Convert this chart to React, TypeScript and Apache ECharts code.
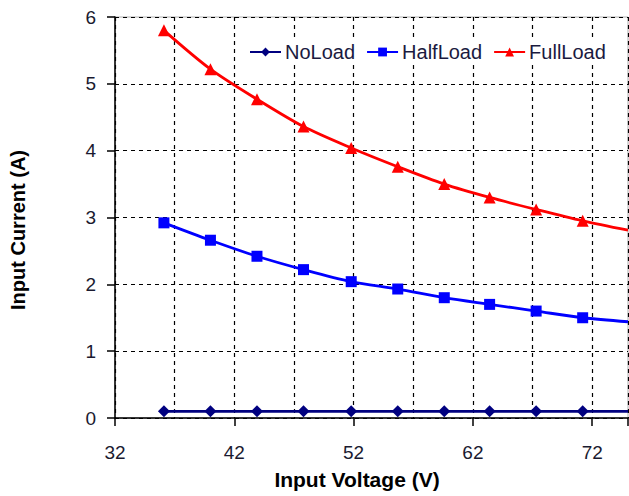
import React, { useEffect, useRef } from "react";
import * as echarts from "echarts";

const voltages = [36.1, 40, 43.9, 47.8, 51.8, 55.7, 59.6, 63.4, 67.3, 71.2, 75];
const noLoad = [0.1, 0.1, 0.1, 0.1, 0.1, 0.1, 0.1, 0.1, 0.1, 0.1, 0.1];
const halfLoad = [2.92, 2.66, 2.42, 2.22, 2.04, 1.93, 1.8, 1.7, 1.6, 1.5, 1.44];
const fullLoad = [5.8, 5.22, 4.77, 4.36, 4.04, 3.76, 3.5, 3.3, 3.12, 2.95, 2.81];
const seriesNames = ["NoLoad", "HalfLoad", "FullLoad"];
const xTickLabels = [32, 42, 52, 62, 72];

const FONT = "'Liberation Sans', Arial, sans-serif";

function toData(values: number[]) {
  return values.map((v, i) => {
    const last = i === values.length - 1;
    return last ? { value: [voltages[i], v], symbol: "none" } : { value: [voltages[i], v] };
  });
}

export default function App() {
  const ref = useRef<HTMLDivElement>(null);
  useEffect(() => {
    if (!ref.current) return;
    const chart = echarts.init(ref.current, null, { renderer: "svg" });
    const mk = (name: string, values: number[], color: string, symbol: string, size: number) => ({
      name,
      type: "line",
      xAxisIndex: 0,
      data: toData(values),
      smooth: 0.3,
      symbol,
      symbolSize: size,
      showAllSymbol: true,
      lineStyle: { color, width: 2.8 },
      itemStyle: { color },
      clip: true,
    });
    chart.setOption({
      animation: false,
      backgroundColor: "#fff",
      grid: {
        left: 115,
        right: 1,
        top: 17,
        bottom: 78,
        show: true,
        borderColor: "#b0b0b0",
        borderWidth: 1,
        outerBoundsMode: "none",
      },
      legend: {
        data: seriesNames.map((n) => ({ name: n })),
        top: 40,
        left: 246,
        itemWidth: 31,
        itemHeight: 11,
        itemGap: 11,
        backgroundColor: "#fff",
        padding: [2, 3, 2, 3],
        textStyle: { fontFamily: FONT, fontSize: 20, color: "#1a1a40", padding: [0, 0, 0, -1] },
      },
      xAxis: [
        {
          type: "value",
          min: 32,
          max: 75,
          interval: 10,
          axisLine: { show: true, onZero: false, lineStyle: { color: "#000", width: 1.5 } },
          axisTick: { show: true, length: 8, lineStyle: { color: "#000", width: 1.5 } },
          axisLabel: {
            margin: 25,
            fontFamily: FONT,
            fontSize: 19,
            color: "#1a1a30",
            formatter: (v: number) => (xTickLabels.includes(v) ? String(v) : ""),
          },
          splitLine: { show: false },
        },
        {
          type: "value",
          position: "bottom",
          min: 32,
          max: 75,
          interval: 5,
          axisLine: { show: false },
          axisTick: { show: false },
          axisLabel: { show: false },
          splitLine: { show: true, lineStyle: { color: "#000", type: [4, 4], width: 1.2 } },
        },
      ],
      yAxis: {
        type: "value",
        min: 0,
        max: 6,
        interval: 1,
        axisLine: { show: true, lineStyle: { color: "#000", width: 1.5 } },
        axisTick: { show: true, length: 8, lineStyle: { color: "#000", width: 1.5 } },
        axisLabel: { margin: 19, fontFamily: FONT, fontSize: 19, color: "#1a1a30" },
        splitLine: { show: true, lineStyle: { color: "#000", type: [4, 4], width: 1.2 } },
      },
      graphic: [
        {
          type: "text",
          x: 357,
          y: 479,
          style: {
            text: "Input Voltage (V)",
            font: `bold 21px ${FONT}`,
            fill: "#000",
            align: "center",
            verticalAlign: "middle",
          },
        },
        {
          type: "text",
          x: 18,
          y: 230,
          rotation: Math.PI / 2,
          style: {
            text: "Input Current (A)",
            font: `bold 20px ${FONT}`,
            fill: "#000",
            align: "center",
            verticalAlign: "middle",
          },
        },
      ],
      series: [
        mk("NoLoad", noLoad, "#000080", "diamond", 12),
        mk("HalfLoad", halfLoad, "#0000ff", "rect", 11),
        mk("FullLoad", fullLoad, "#ff0000", "triangle", 12),
      ],
    });
    return () => chart.dispose();
  }, []);
  return (
    <div
      ref={ref}
      style={{ position: "fixed", left: 0, top: 0, width: 629, height: 496 }}
    />
  );
}
